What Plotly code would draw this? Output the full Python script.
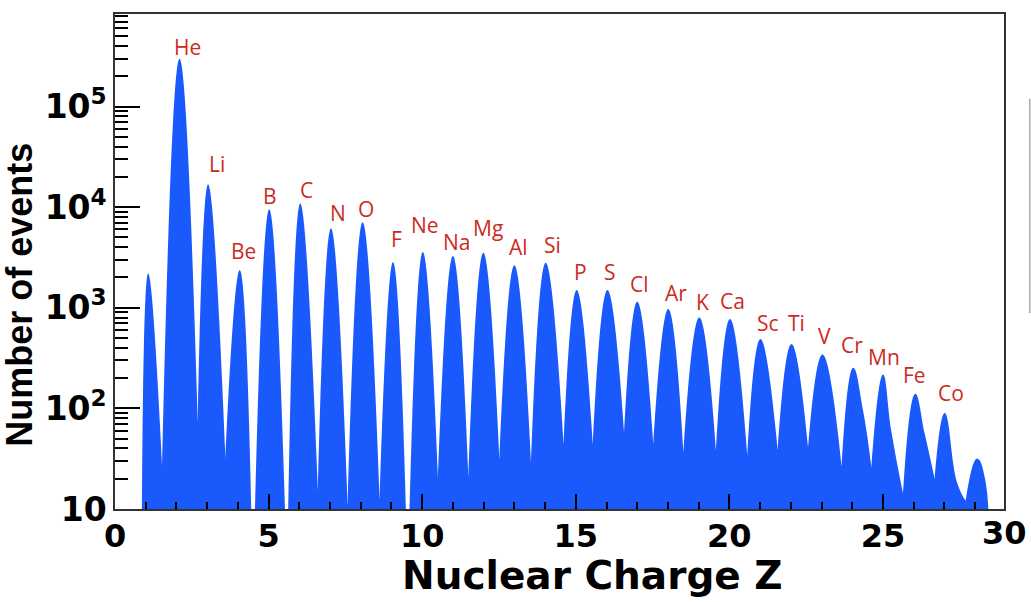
import math
import plotly.graph_objects as go

# ---- data ----
peak_z = [1.08, 2.10, 3.03, 4.06, 5.02, 6.03, 7.03, 8.06, 9.05, 10.02, 11.00, 11.99,
          13.00, 14.02, 15.03, 16.03, 17.00, 18.01, 19.02, 20.02, 21.01, 22.02, 23.03,
          24.03, 25.00, 26.05, 27.01, 28.06]
peak_counts = [2200, 298000, 16800, 2380, 9550, 10900, 6170, 7100, 2850, 3580, 3270, 3530,
               2650, 2810, 1500, 1500, 1150, 970, 800, 773, 490, 437, 343,
               253, 217, 140, 90, 31.8]
valley_z = [0.86, 1.53, 2.69, 3.59, 4.49, 5.60, 6.60, 7.57, 8.61, 9.53, 10.51, 11.50,
            12.51, 13.54, 14.60, 15.55, 16.57, 17.52, 18.50, 19.56, 20.58, 21.57, 22.56,
            23.65, 24.62, 25.65, 26.68, 27.69, 28.42]
valley_counts = [1, 27, 77, 33.5, 1.5, 2, 16, 11.2, 12.8, 2, 20.9, 21.4,
                 31.8, 29.4, 44.7, 44.7, 58, 44.7, 36.9, 38.4, 34.3, 39, 40.8,
                 26.7, 26.2, 14.3, 20.1, 12.1, 1]
shoulder_z = [24.35, 25.27, 26.36, 27.42, 28.33]
shoulder_counts = [96, 60, 56, 18, 19.4]

elements = ["He", "Li", "Be", "B", "C", "N", "O", "F", "Ne", "Na", "Mg", "Al", "Si",
            "P", "S", "Cl", "Ar", "K", "Ca", "Sc", "Ti", "V", "Cr", "Mn", "Fe", "Co"]
label_z = [2.36, 3.33, 4.18, 5.06, 6.23, 7.27, 8.18, 9.15, 10.10, 11.11, 12.15, 13.15,
           14.23, 15.14, 16.11, 17.09, 18.26, 19.11, 20.11, 21.25, 22.20, 23.10, 23.98,
           25.02, 26.03, 27.20]
label_logy = [5.594, 4.426, 3.564, 4.109, 4.168, 3.941, 3.980, 3.683, 3.822, 3.653, 3.792,
              3.604, 3.624, 3.356, 3.356, 3.238, 3.149, 3.059, 3.069, 2.851, 2.851, 2.723,
              2.634, 2.515, 2.327, 2.149]

y_ticks = [10, 100, 1000, 10000, 100000]
y_ticktext = ["10", "10<sup>2</sup>", "10<sup>3</sup>", "10<sup>4</sup>", "10<sup>5</sup>"]
x_ticks = [0, 5, 10, 15, 20, 25]
x_ticktext = ["0", "5", "10", "15", "20", "25"]

BLUE = "#1a5afc"
RED = "#cc2a1e"

fig = go.Figure()

# one arch per charge peak
for i in range(len(peak_z)):
    xs = [valley_z[i], peak_z[i]]
    ys = [valley_counts[i], peak_counts[i]]
    for sz, sc in zip(shoulder_z, shoulder_counts):
        if peak_z[i] < sz < valley_z[i + 1]:
            xs.append(sz)
            ys.append(sc)
    xs.append(valley_z[i + 1])
    ys.append(valley_counts[i + 1])
    fig.add_trace(go.Scatter(x=xs, y=ys, mode="lines",
                             line=dict(shape="spline", smoothing=1.3, width=0, color=BLUE),
                             fill="tozeroy", fillcolor=BLUE, hoverinfo="skip", showlegend=False))

# base under the valleys (hides seams)
fig.add_trace(go.Scatter(x=valley_z, y=valley_counts, mode="lines", line=dict(width=0, color=BLUE),
                         fill="tozeroy", fillcolor=BLUE, hoverinfo="skip", showlegend=False))

for el, lx, ly in zip(elements, label_z, label_logy):
    fig.add_annotation(x=lx, y=ly, text=el, showarrow=False, xanchor="center", yanchor="middle",
                       font=dict(family="Open Sans", size=21, color=RED))

minor_y = [m * 10 ** e for e in range(1, 6) for m in range(2, 10)]

fig.update_layout(
    width=1031, height=602, autosize=False,
    margin=dict(l=115, r=27, t=12, b=93),
    plot_bgcolor="white", paper_bgcolor="white",
    xaxis=dict(range=[0, 28.94], tickmode="array", tickvals=x_ticks, ticktext=x_ticktext,
               ticks="inside", ticklen=15, tickwidth=2, tickcolor="black",
               showline=True, linecolor="#333", linewidth=1.5, mirror=True,
               showgrid=False, zeroline=False, ticklabelstandoff=-2,
               tickfont=dict(family="DejaVu Sans", size=32, color="black", weight="bold"),
               minor=dict(tickmode="linear", tick0=0, dtick=1, ticks="inside", ticklen=7,
                          tickwidth=2, tickcolor="black", showgrid=False)),
    yaxis=dict(type="log", range=[1, 5.92], tickmode="array", tickvals=y_ticks, ticktext=y_ticktext,
               ticks="inside", ticklen=25, tickwidth=2, tickcolor="black",
               showline=True, linecolor="#333", linewidth=1.5, mirror=True,
               showgrid=False, zeroline=False,
               tickfont=dict(family="DejaVu Sans", size=33, color="black", weight="bold"),
               minor=dict(tickmode="array", tickvals=minor_y, ticks="inside", ticklen=13,
                          tickwidth=2, tickcolor="black", showgrid=False)),
)

# axis titles and the far-right tick label
fig.add_annotation(xref="paper", yref="paper", x=0.5366, y=-0.183, text="<b>Nuclear Charge Z</b>",
                   showarrow=False, xanchor="center", yanchor="bottom",
                   font=dict(family="DejaVu Sans", size=39, color="black"))
fig.add_annotation(xref="paper", yref="paper", x=-0.1069, y=0.4326, text="<b>Number of events</b>",
                   showarrow=False, textangle=-90, xanchor="center", yanchor="middle",
                   font=dict(family="Liberation Sans", size=36, color="black"))
fig.add_annotation(xref="paper", yref="paper", x=1.0, y=-0.048, text="<b>30</b>",
                   showarrow=False, xanchor="center", yanchor="middle",
                   font=dict(family="DejaVu Sans", size=32, color="black"))

# thin grey edge at the far right of the picture
fig.add_shape(type="line", xref="paper", yref="paper", x0=1.029, x1=1.029, y0=0.396, y1=0.829,
              line=dict(color="#aaaaaa", width=1.5))

fig.write_html("out.html")
